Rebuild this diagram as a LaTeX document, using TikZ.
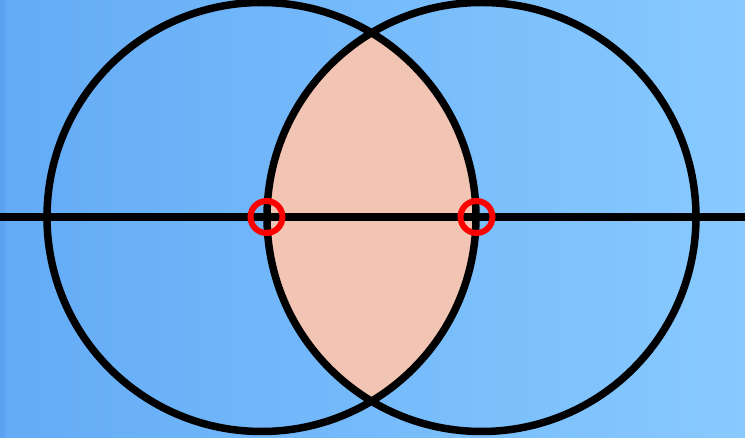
\documentclass[tikz,border=0pt]{standalone}
\begin{document}
\begin{tikzpicture}[x=1pt,y=1pt,
  blk/.style={line width=7.5pt,draw=black},
  redring/.style={line width=6pt,draw=red}]
\definecolor{bgL}{RGB}{99,171,246}
\definecolor{bgR}{RGB}{136,202,255}
\definecolor{lens}{RGB}{242,196,180}
\definecolor{strip}{RGB}{92,162,240}
\useasboundingbox (0,0) rectangle (745,438);
\shade[left color=bgL,right color=bgR] (0,0) rectangle (745,438);
\fill[strip] (0,0) rectangle (5,438);
\coordinate (C1) at (261.5,221);
\coordinate (C2) at (481.5,221);
\coordinate (L) at (0,221);
\coordinate (R) at (745,221);
\coordinate (P1) at (266.5,221);
\coordinate (P2) at (476.5,221);
\begin{scope}
  \clip (C1) circle (214.5);
  \fill[lens] (C2) circle (214.5);
\end{scope}
\draw[blk] (C1) circle (214.5);
\draw[blk] (C2) circle (214.5);
\draw[blk] (L) -- (R);
\draw[redring] (P1) circle (16);
\draw[redring] (P2) circle (16);
\end{tikzpicture}
\end{document}
